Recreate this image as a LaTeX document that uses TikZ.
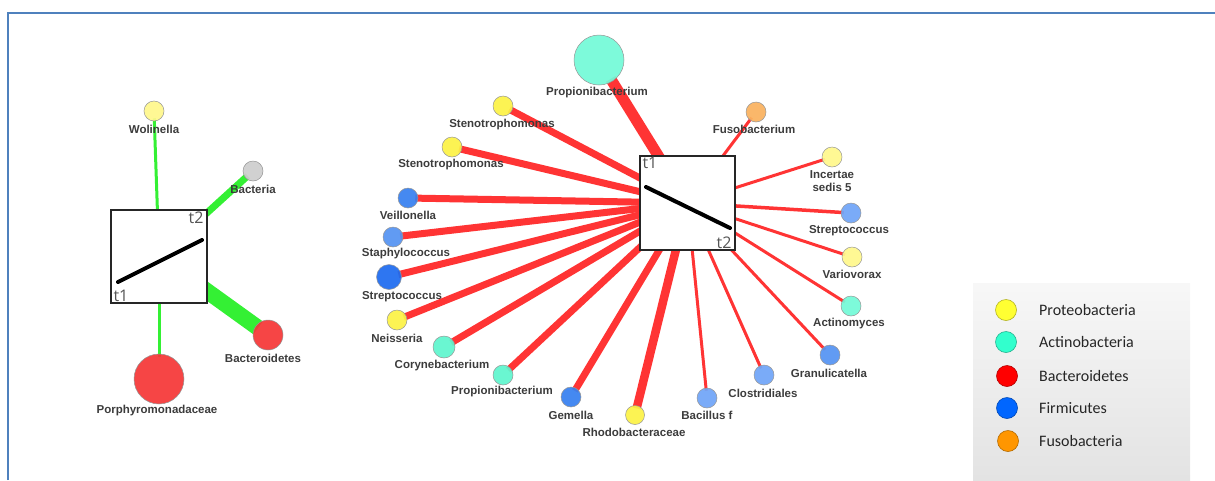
\documentclass[tikz,border=0pt]{standalone}
\usepackage{fontspec}
\setmainfont{Liberation Sans}
\newfontfamily\legendfont{Carlito}
\newfontfamily\timefont{Open Sans}
\usetikzlibrary{backgrounds}

% palette
\definecolor{edgered}{RGB}{255,52,52}
\definecolor{edgegreen}{RGB}{52,240,52}
\definecolor{ringgray}{RGB}{150,150,150}
\definecolor{labelgray}{RGB}{60,60,60}
\definecolor{timegray}{RGB}{85,85,85}
\definecolor{frameblue}{RGB}{79,129,189}
\definecolor{yelA}{RGB}{252,242,70}
\definecolor{yelB}{RGB}{255,248,140}
\definecolor{tealA}{RGB}{95,245,205}
\definecolor{tealB}{RGB}{115,250,215}
\definecolor{blueA}{RGB}{55,128,240}
\definecolor{blueD}{RGB}{30,108,240}
\definecolor{blueL}{RGB}{112,165,248}
\definecolor{orangeA}{RGB}{250,178,95}
\definecolor{grayA}{RGB}{205,205,205}
\definecolor{redA}{RGB}{245,55,55}
% legend palette
\definecolor{legYel}{RGB}{255,255,50}
\definecolor{legTeal}{RGB}{50,255,205}
\definecolor{legRed}{RGB}{255,0,0}
\definecolor{legBlue}{RGB}{0,102,255}
\definecolor{legOrange}{RGB}{255,150,0}

\begin{document}
\begin{tikzpicture}[x=1pt,y=-1pt,
  taxon/.style={circle, draw=ringgray, line width=0.5pt, fill opacity=0.93,
                inner sep=0pt, minimum size=2*#1},
  taxon/.default=10,
  lbl/.style={font=\bfseries\fontsize{11.5}{13}\selectfont, text=labelgray,
              inner sep=0pt, align=center},
  hub/.style={draw=black!85, line width=1.4pt, fill=white, inner sep=0pt},
  trend/.style={line width=4pt, black, line cap=round},
  tlabel/.style={font=\timefont\fontsize{16}{17}\selectfont, text=timegray, inner sep=0pt},
  redge/.style={draw=edgered, line width=#1, shorten >=-3pt},
  gedge/.style={draw=edgegreen, line width=#1, shorten >=-3pt},
  legdot/.style={circle, inner sep=0pt, minimum size=21, line width=0.6pt, fill=#1, draw=#1!70!black},
  legtext/.style={font=\legendfont\fontsize{16}{17}\selectfont, text=black!85, anchor=west, inner sep=0pt}
]
\useasboundingbox (0,0) rectangle (1215,480);

% ---------- left network ----------
\node[hub, minimum width=96, minimum height=93] (hubL) at (159,256.5) {};
\draw[trend] (118,282) coordinate (l1) -- (202,240) coordinate (l2);
\node[tlabel, anchor=north east] (tL2) at ([xshift=-4,yshift=-2]hubL.north east) {t2};
\node[tlabel, anchor=south west] (tL1) at ([xshift=3,yshift=2]hubL.south west) {t1};

\node[taxon, fill=yelB] (wol) at (154,111) {};
\node[taxon, fill=grayA] (bact) at (253,171) {};
\node[taxon=15, fill=redA] (bcd) at (268,335) {};
\node[taxon=25, fill=redA] (por) at (159,379) {};

\node[lbl] (lwol) at (154,129) {Wolinella};
\node[lbl] (lbact) at (253,189) {Bacteria};
\node[lbl] (lbcd) at (263,358) {Bacteroidetes};
\node[lbl] (lpor) at (157,411) {Porphyromonadaceae};

\begin{scope}[on background layer]
  \draw[gedge=3] (hubL.center) -- (wol);
  \draw[gedge=7] (hubL.center) -- (bact);
  \draw[gedge=16] (hubL.center) -- (bcd);
  \draw[gedge=3] (hubL.center) -- (por);
\end{scope}

% ---------- right network ----------
\node[hub, minimum width=95, minimum height=94] (hubR) at (687.5,203) {};
\draw[trend] (646,187) coordinate (r1) -- (730,228) coordinate (r2);
\node[tlabel, anchor=north west] (tR1) at ([xshift=3,yshift=-2]hubR.north west) {t1};
\node[tlabel, anchor=south east] (tR2) at ([xshift=-4,yshift=2]hubR.south east) {t2};

\node[taxon=25, fill=tealB] (pbig) at (599,60) {};
\node[taxon, fill=yelA] (st1) at (503,106) {};
\node[taxon, fill=yelA] (st2) at (452,147) {};
\node[taxon, fill=blueA] (vei) at (408,198) {};
\node[taxon, fill=blueA!85!white] (sta) at (393,237) {};
\node[taxon=12.5, fill=blueD] (strL) at (389,277) {};
\node[taxon, fill=yelA] (nei) at (397,320) {};
\node[taxon=11, fill=tealA] (cor) at (444,347) {};
\node[taxon, fill=tealA] (pro) at (503,375) {};
\node[taxon, fill=blueA] (gem) at (571,397) {};
\node[taxon=9.5, fill=yelA] (rho) at (635,415) {};
\node[taxon, fill=blueL] (bac) at (707,398) {};
\node[taxon, fill=blueL] (clo) at (764,375) {};
\node[taxon, fill=blueA!85!white] (gra) at (830,355) {};
\node[taxon, fill=tealB] (act) at (851,306) {};
\node[taxon, fill=yelB] (var) at (852,257) {};
\node[taxon, fill=blueL] (strR) at (851,213) {};
\node[taxon, fill=yelB] (inc) at (832,157) {};
\node[taxon, fill=orangeA] (fus) at (756,112) {};

\node[lbl] (lpbig) at (597,93) {Propionibacterium};
\node[lbl] (lst1) at (502,125) {Stenotrophomonas};
\node[lbl] (lst2) at (451,165) {Stenotrophomonas};
\node[lbl] (lvei) at (408,215) {Veillonella};
\node[lbl] (lsta) at (406,254) {Staphylococcus};
\node[lbl] (lstrL) at (402,297) {Streptococcus};
\node[lbl] (lnei) at (397,338) {Neisseria};
\node[lbl] (lcor) at (442,366) {Corynebacterium};
\node[lbl] (lpro) at (502,392) {Propionibacterium};
\node[lbl] (lgem) at (571,415) {Gemella};
\node[lbl] (lrho) at (634,432) {Rhodobacteraceae};
\node[lbl] (lbac) at (707,415) {Bacillus f};
\node[lbl] (lclo) at (763,393) {Clostridiales};
\node[lbl] (lgra) at (829,373) {Granulicatella};
\node[lbl] (lact) at (849,324) {Actinomyces};
\node[lbl] (lvar) at (852,274) {Variovorax};
\node[lbl] (lstrR) at (849,231) {Streptococcus};
\node[lbl] (linc) at (832,181.5) {Incertae\\sedis 5};
\node[lbl] (lfus) at (754,129) {Fusobacterium};

\begin{scope}[on background layer]
  \draw[redge=11] (hubR.center) -- (pbig);
  \draw[redge=7] (hubR.center) -- (st1);
  \draw[redge=7] (hubR.center) -- (st2);
  \draw[redge=7] (hubR.center) -- (vei);
  \draw[redge=7] (hubR.center) -- (sta);
  \draw[redge=7] (hubR.center) -- (strL);
  \draw[redge=7] (hubR.center) -- (nei);
  \draw[redge=7] (hubR.center) -- (cor);
  \draw[redge=7] (hubR.center) -- (pro);
  \draw[redge=7] (hubR.center) -- (gem);
  \draw[redge=8.5] (hubR.center) -- (rho);
  \draw[redge=3] (hubR.center) -- (bac);
  \draw[redge=3] (hubR.center) -- (clo);
  \draw[redge=3] (hubR.center) -- (gra);
  \draw[redge=3] (hubR.center) -- (act);
  \draw[redge=3] (hubR.center) -- (var);
  \draw[redge=3.5] (hubR.center) -- (strR);
  \draw[redge=3] (hubR.center) -- (inc);
  \draw[redge=3] (hubR.center) -- (fus);
\end{scope}

% ---------- legend ----------
\shade[top color=gray!6, bottom color=gray!22] (973,283) rectangle (1190,480);
\node[legdot=legYel] (k1) at (1006,310) {};
\node[legdot=legTeal] (k2) at (1006,342) {};
\node[legdot=legRed] (k3) at (1007,376) {};
\node[legdot=legBlue] (k4) at (1007,408) {};
\node[legdot=legOrange] (k5) at (1008,441) {};
\node[legtext] (kt1) at (1039,310) {Proteobacteria};
\node[legtext] (kt2) at (1039,342) {Actinobacteria};
\node[legtext] (kt3) at (1039,376) {Bacteroidetes};
\node[legtext] (kt4) at (1039,408) {Firmicutes};
\node[legtext] (kt5) at (1039,441) {Fusobacteria};

% ---------- frame ----------
\draw[frameblue, line width=2.5pt] (8,480) -- (8,13) -- (1215,13);
\end{tikzpicture}
\end{document}
